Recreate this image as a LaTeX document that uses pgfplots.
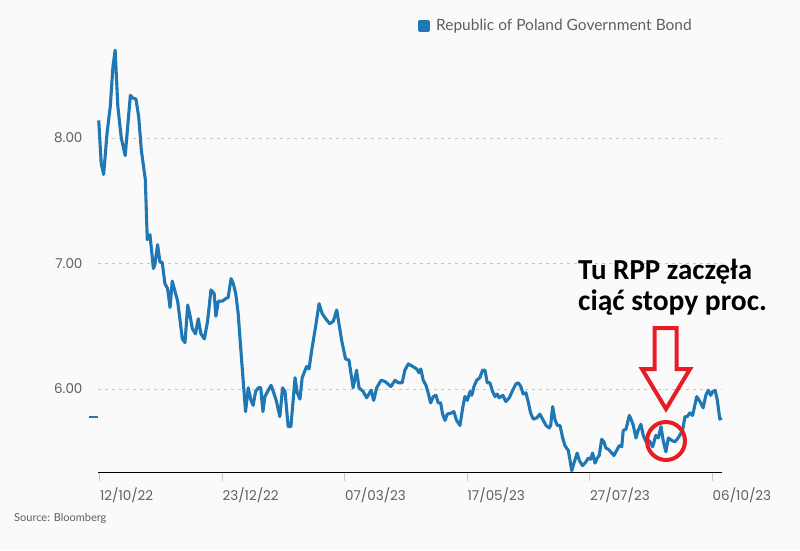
\documentclass[border=0pt]{standalone}
\usepackage{pgfplots}
\pgfplotsset{compat=1.18}
\usepackage{fontspec}
\setmainfont{Lato}
\newfontfamily\tickfont{Poppins}
\newfontfamily\annfont{Carlito}
\definecolor{plotblue}{RGB}{31,119,180}
\definecolor{annred}{RGB}{232,28,36}
\definecolor{bgc}{RGB}{250,250,250}
\definecolor{ticktext}{RGB}{95,95,95}
\pgfplotstableread{
x v
-0.3 8.14
0.7 7.80
1.7 7.71
3.1 8.04
4.4 8.25
5.5 8.57
6.4 8.70
7.5 8.25
8.9 8.00
10.5 7.86
12.6 8.34
13.5 8.32
14.9 8.31
16.0 8.17
17.1 7.90
18.7 7.67
19.5 7.19
20.6 7.23
22.0 6.96
22.6 6.99
23.7 7.15
24.7 7.01
25.6 7.01
26.7 6.84
27.8 6.80
28.8 6.65
29.7 6.86
30.8 6.78
31.9 6.70
32.8 6.56
33.8 6.40
34.9 6.37
36.0 6.67
36.9 6.59
37.9 6.48
39.2 6.44
40.3 6.56
41.4 6.44
42.8 6.40
44.1 6.54
45.5 6.79
46.8 6.76
47.5 6.58
48.5 6.70
50.1 6.70
51.5 6.72
52.5 6.73
53.7 6.88
54.6 6.84
55.6 6.76
56.6 6.60
58.0 6.23
59.6 5.82
60.7 6.01
61.8 5.91
62.7 5.87
63.7 5.98
64.8 6.01
65.8 6.01
66.7 5.82
67.5 5.94
68.6 5.98
70.0 6.03
71.1 5.97
72.1 5.91
73.6 5.78
74.7 6.01
75.7 5.98
77.0 5.70
78.1 5.70
79.8 6.09
80.7 5.97
81.8 5.92
82.7 6.09
84.5 6.18
85.5 6.16
86.6 6.31
88.2 6.50
89.6 6.68
90.9 6.60
92.7 6.55
94.0 6.52
95.4 6.54
96.8 6.63
98.8 6.39
100.4 6.24
101.8 6.23
103.5 6.01
104.9 6.15
105.9 6.01
107.6 5.98
109.0 5.93
110.8 5.99
111.9 5.91
113.1 6.01
114.9 6.07
116.5 6.06
118.9 6.02
120.6 6.07
121.9 6.05
123.5 6.05
124.6 6.15
126.0 6.20
127.8 6.18
129.4 6.16
130.4 6.13
131.1 6.16
132.1 6.07
133.2 6.03
134.1 5.97
135.1 5.89
136.2 5.94
137.3 5.95
138.2 5.89
139.2 5.89
140.0 5.80
141.0 5.75
141.9 5.80
143.7 5.81
144.6 5.82
145.7 5.75
147.1 5.71
148.2 5.85
149.1 5.94
150.1 5.91
151.2 5.98
151.9 5.95
152.8 6.02
153.9 6.07
155.2 6.09
156.3 6.15
157.3 6.15
158.2 6.05
159.3 6.05
160.4 5.98
161.4 5.94
162.3 5.96
163.1 5.93
164.6 5.95
165.8 5.90
167.2 5.93
168.6 5.99
169.9 6.04
170.9 6.05
171.9 6.02
172.9 5.96
174.0 5.97
174.9 5.90
175.9 5.81
177.0 5.76
178.4 5.77
179.7 5.80
180.8 5.76
182.2 5.71
183.5 5.69
184.1 5.71
184.9 5.86
185.8 5.76
186.8 5.71
187.9 5.71
189.0 5.61
189.9 5.55
191.3 5.51
192.7 5.35
193.6 5.41
194.9 5.49
195.8 5.43
197.1 5.39
198.5 5.42
199.4 5.45
200.4 5.44
201.2 5.49
202.2 5.41
203.1 5.45
203.9 5.47
204.9 5.60
205.8 5.58
206.6 5.53
207.6 5.52
208.6 5.50
209.9 5.47
211.0 5.51
212.1 5.55
213.1 5.54
213.7 5.67
214.8 5.68
216.2 5.79
217.1 5.75
217.8 5.71
218.9 5.61
219.8 5.67
220.9 5.72
221.9 5.63
223.0 5.58
224.3 5.59
225.7 5.54
227.0 5.63
228.0 5.61
229.1 5.70
230.0 5.59
231.1 5.50
232.1 5.61
233.5 5.59
234.8 5.58
236.1 5.61
237.9 5.67
238.9 5.78
239.8 5.78
240.9 5.81
242.0 5.79
243.7 5.94
245.0 5.90
246.3 5.85
247.4 5.95
248.4 5.99
249.4 5.95
250.2 5.98
251.2 5.99
252.1 5.91
253.1 5.76
253.9 5.77
}\bond
\begin{document}
\begin{tikzpicture}[x=1pt,y=1pt]
\fill[bgc] (0,0) rectangle (800,550);
\begin{axis}[
  at={(98pt,77.5pt)}, anchor=south west,
  scale only axis, width=624pt, height=428.6pt,
  xmin=-0.6, xmax=254, ymin=5.335, ymax=8.75,
  clip=false,
  axis x line*=bottom, axis y line*=left,
  x axis line style={draw=black, line width=1.5pt, -},
  y axis line style={draw=none},
  xtick={0,50,100,150,200,250},
  xticklabels={12/10/22,23/12/22,07/03/23,17/05/23,27/07/23,06/10/23},
  ytick={6,7,8},
  tick align=outside,
  major tick length=8pt,
  xtick style={draw=black!20, line width=1pt},
  ytick style={draw=none},
  ymajorgrids,
  major grid style={draw=black!22, line width=1pt, dash pattern=on 3pt off 4pt},
  /pgf/number format/assume math mode=true,
  yticklabel style={/pgf/number format/fixed, /pgf/number format/fixed zerofill, /pgf/number format/precision=2},
  y tick label style={font=\tickfont\fontsize{13.5}{15}\selectfont, text=ticktext, xshift=-4pt},
  x tick label style={font=\tickfont\fontsize{13.5}{15}\selectfont, text=ticktext, anchor=north west, xshift=-3pt, yshift=-4pt},
  legend style={draw=none, fill=none, at={(axis description cs:0.955,1.042)}, anchor=east,
    font=\fontsize{15.5}{17}\selectfont, text=ticktext, inner sep=0pt},
  legend image code/.code={\fill[plotblue] (0pt,-4.5pt) rectangle (9pt,4.5pt);},
  legend cell align=left,
]
\addplot[plotblue, line width=3.1pt, line join=round] table[x=x,y=v] {\bond};
\addlegendentry{\hspace{4pt}Republic of Poland Government Bond}
\addplot[plotblue, line width=2.5pt, forget plot] coordinates {(-4.3,5.777) (-0.6,5.777)};
\end{axis}
% annotations (picture coords: x = px, y = 550 - py)
\draw[annred, line width=4pt, line join=miter]
  (654.5,222) -- (654.5,181) -- (642,181) -- (666,141) -- (690,181) -- (676.5,181) -- (676.5,222) -- cycle;
\draw[annred, line width=4pt] (666,109) circle (19);
\node[anchor=base west, inner sep=0pt, font=\annfont\bfseries\fontsize{29}{31}\selectfont] at (578,271) {Tu RPP zaczęła};
\node[anchor=base west, inner sep=0pt, font=\annfont\bfseries\fontsize{29.5}{31}\selectfont] at (578,240) {ciąć stopy proc.};
\node[anchor=base west, inner sep=0pt, font=\fontsize{11}{13}\selectfont, text=ticktext] at (14,29) {Source: Bloomberg};
\end{tikzpicture}
\end{document}
